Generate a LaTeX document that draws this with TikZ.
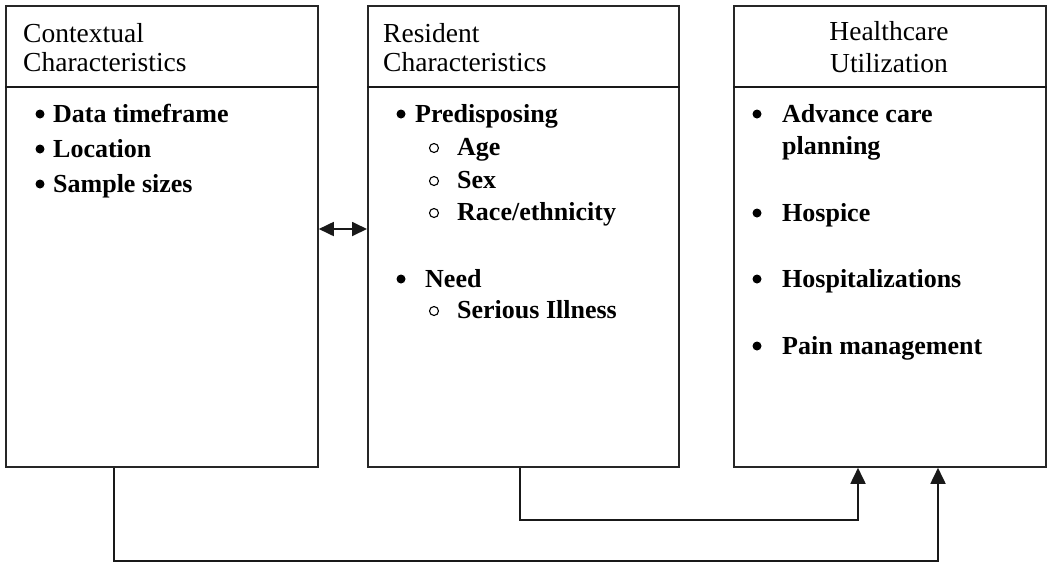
\documentclass[tikz,border=0pt]{standalone}
\usepackage{fontspec}
\setmainfont{Liberation Serif}
\usetikzlibrary{arrows.meta}
\begin{document}
\begin{tikzpicture}[x=1pt,y=-1pt,
 box/.style={draw=black!85, line width=1.8pt, anchor=north west, inner sep=0pt, minimum height=461pt},
 hdr/.style={anchor=base west, inner sep=0pt, font=\fontsize{27.5}{30}\selectfont},
 hdrc/.style={anchor=base, inner sep=0pt, font=\fontsize{27.5}{30}\selectfont},
 itm/.style={anchor=base west, inner sep=0pt, font=\fontsize{26}{30}\selectfont\bfseries},
 dot/.style={circle, fill=black, inner sep=0pt, minimum size=9pt},
 odot/.style={circle, draw=black, line width=1.1pt, inner sep=0pt, minimum size=9pt},
 conn/.style={draw=black!90, line width=1.8pt},
 tipend/.style={-{Triangle[length=16pt,width=15pt]}},
 tipboth/.style={{Triangle[length=15pt,width=14pt]}-{Triangle[length=15pt,width=14pt]}}
]
\useasboundingbox (0,0) rectangle (1050,566);
\fill[white] (0,0) rectangle (1050,566);

% boxes
\node[box, minimum width=312pt] (b1) at (5,5) {};
\node[box, minimum width=311pt] (b2) at (367,5) {};
\node[box, minimum width=312pt] (b3) at (733,5) {};
\draw[conn] ([yshift=-82pt]b1.north west) -- ([yshift=-82pt]b1.north east);
\draw[conn] ([yshift=-82pt]b2.north west) -- ([yshift=-82pt]b2.north east);
\draw[conn] ([yshift=-82pt]b3.north west) -- ([yshift=-82pt]b3.north east);

% headers
\node[hdr] (h1a) at (23,42) {Contextual};
\node[hdr] (h1b) at (23,71) {Characteristics};
\node[hdr] (h2a) at (383,42) {Resident};
\node[hdr] (h2b) at (383,71) {Characteristics};
\node[hdrc] (h3a) at (889,40) {Healthcare};
\node[hdrc] (h3b) at (889,72) {Utilization};

% box 1 items
\node[dot] (p1a) at (40,114) {};
\node[itm] (t1a) at (53,122) {Data timeframe};
\node[dot] (p1b) at (40,149) {};
\node[itm] (t1b) at (53,157) {Location};
\node[dot] (p1c) at (40,184) {};
\node[itm] (t1c) at (53,192) {Sample sizes};

% box 2 items
\node[dot] (p2a) at (401,114) {};
\node[itm] (t2a) at (415,122) {Predisposing};
\node[odot] (s2a) at (434,148) {};
\node[itm] (u2a) at (457,155) {Age};
\node[odot] (s2b) at (434,181) {};
\node[itm] (u2b) at (457,188) {Sex};
\node[odot] (s2c) at (434,213) {};
\node[itm] (u2c) at (457,220) {Race/ethnicity};
\node[dot] (p2b) at (401,279) {};
\node[itm] (t2b) at (425,287) {Need};
\node[odot] (s2d) at (434,311) {};
\node[itm] (u2d) at (457,318) {Serious Illness};

% box 3 items
\node[dot] (p3a) at (757,114) {};
\node[itm] (t3a) at (782,122) {Advance care};
\node[itm] (t3b) at (782,154) {planning};
\node[dot] (p3c) at (757,213) {};
\node[itm] (t3c) at (782,221) {Hospice};
\node[dot] (p3d) at (757,279) {};
\node[itm] (t3d) at (782,287) {Hospitalizations};
\node[dot] (p3e) at (757,346) {};
\node[itm] (t3e) at (782,354) {Pain management};

% connectors
\draw[conn,tipboth] ([yshift=-224pt]b1.north east) -- ([yshift=-224pt]b2.north west);
\draw[conn,tipend] ([xshift=153pt]b2.south west) -- ++(0,52) -| ([xshift=125pt]b3.south west);
\draw[conn,tipend] ([xshift=109pt]b1.south west) -- ++(0,93) -| ([xshift=205pt]b3.south west);
\end{tikzpicture}
\end{document}
